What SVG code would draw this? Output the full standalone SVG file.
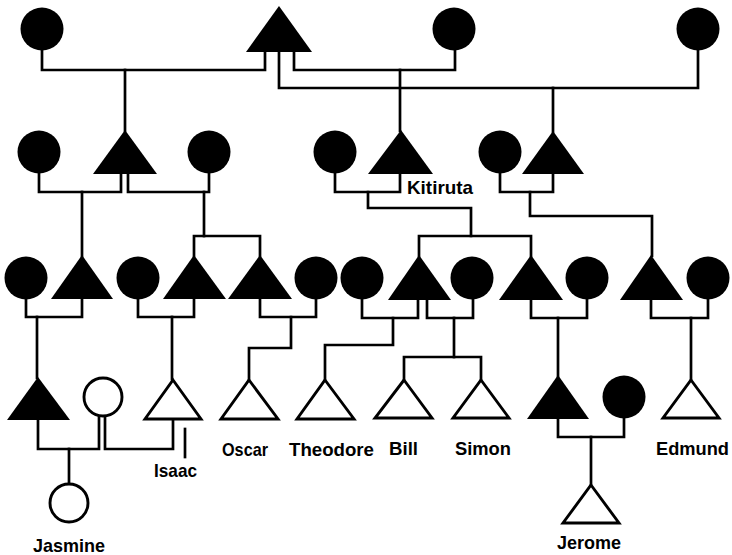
<svg xmlns="http://www.w3.org/2000/svg" width="732" height="555" viewBox="0 0 732 555">
<style>
.f{fill:#000;stroke:none}
.o{fill:#fff;stroke:#000;stroke-width:2.9;stroke-linejoin:miter}
.ln{fill:none;stroke:#000;stroke-width:2.7;stroke-linejoin:miter;stroke-linecap:square}
.lb{font-family:"Liberation Sans",Arial,sans-serif;font-weight:bold;font-size:19px;fill:#000}
</style>
<rect width="732" height="555" fill="#fff"/>
<g id="connectors" class="ln">
<polyline points="42,50 42,70 265,70 265,52"/>
<polyline points="125,70 125,131"/>
<polyline points="294,52 294,70 455,70 455,50"/>
<polyline points="400,70 400,131"/>
<polyline points="279,52 279,88 698,88 698,50"/>
<polyline points="553,88 553,132"/>
<polyline points="39,173 39,192 121,192 121,174"/>
<polyline points="82,192 82,256"/>
<polyline points="128,174 128,192 209,192 209,173"/>
<polyline points="204,192 204,236"/>
<polyline points="194,256 194,236 260,236 260,256"/>
<polyline points="335,173 335,192 400,192 400,174"/>
<polyline points="368,192 368,208 471,208 471,236"/>
<polyline points="419,256 419,236 531,236 531,256"/>
<polyline points="500,173 500,192 553,192 553,174"/>
<polyline points="530,192 530,216 652,216 652,256"/>
<polyline points="26,299 26,317 82,317 82,299"/>
<polyline points="37,317 37,378"/>
<polyline points="138,299 138,317 194,317 194,299"/>
<polyline points="172,317 172,379"/>
<polyline points="260,299 260,317 316,317 316,299"/>
<polyline points="291,317 291,348 249,348 249,379"/>
<polyline points="362,299 362,318 418,318 418,300"/>
<polyline points="393,318 393,345 325,345 325,379"/>
<polyline points="427,300 427,318 473,318 473,299"/>
<polyline points="454,318 454,357"/>
<polyline points="404,379 404,357 481,357 481,379"/>
<polyline points="531,300 531,318 587,318 587,299"/>
<polyline points="558,318 558,376"/>
<polyline points="651,300 651,318 708,318 708,299"/>
<polyline points="691,318 691,379"/>
<polyline points="38,420 38,449 99,449 99,416"/>
<polyline points="69,449 69,483"/>
<polyline points="105,416 105,449 173,449 173,420"/>
<polyline points="185,429 185,457"/>
<polyline points="558,419 558,437 624,437 624,418"/>
<polyline points="591,437 591,484"/>
</g>
<g id="n1a"><circle class="f" cx="42" cy="29" r="21.5"/></g>
<g id="n1b"><polygon class="f" points="279,6 312,52 246,52"/></g>
<g id="n1c"><circle class="f" cx="454" cy="29" r="21.5"/></g>
<g id="n1d"><circle class="f" cx="698" cy="29" r="21.5"/></g>
<g id="n2a"><circle class="f" cx="39" cy="152" r="21.5"/></g>
<g id="n2b"><polygon class="f" points="125,130 157,174 93,174"/></g>
<g id="n2c"><circle class="f" cx="209" cy="152" r="21.5"/></g>
<g id="n2d"><circle class="f" cx="335" cy="152" r="21.5"/></g>
<g id="kitiruta"><polygon class="f" points="401,130 433,174 368,174"/><text class="lb" x="407" y="194" textLength="66" lengthAdjust="spacingAndGlyphs">Kitiruta</text></g>
<g id="n2f"><circle class="f" cx="500" cy="152" r="21.5"/></g>
<g id="n2g"><polygon class="f" points="553,131 584,174 522,174"/></g>
<g id="n3a"><circle class="f" cx="26" cy="278" r="21.5"/></g>
<g id="n3b"><polygon class="f" points="82,255 113,299 51,299"/></g>
<g id="n3c"><circle class="f" cx="138" cy="278" r="21.5"/></g>
<g id="n3d"><polygon class="f" points="194,255 226,299 163,299"/></g>
<g id="n3e"><polygon class="f" points="260,255 292,299 228,299"/></g>
<g id="n3f"><circle class="f" cx="316" cy="278" r="21.5"/></g>
<g id="n3g"><circle class="f" cx="362" cy="278" r="21.5"/></g>
<g id="n3h"><polygon class="f" points="419,255 451,300 388,300"/></g>
<g id="n3i"><circle class="f" cx="472" cy="278" r="21.5"/></g>
<g id="n3j"><polygon class="f" points="531,255 563,300 499,300"/></g>
<g id="n3k"><circle class="f" cx="587" cy="278" r="21.5"/></g>
<g id="n3l"><polygon class="f" points="651,255 683,300 620,300"/></g>
<g id="n3m"><circle class="f" cx="708" cy="278" r="21.5"/></g>
<g id="n4a"><polygon class="f" points="38,377 70,420 7,420"/></g>
<g id="n4b"><circle class="o" cx="103" cy="397" r="19"/></g>
<g id="isaac"><polygon class="o" points="173,380 201,419 145,419"/><text class="lb" x="154" y="477" textLength="43" lengthAdjust="spacingAndGlyphs">Isaac</text></g>
<g id="oscar"><polygon class="o" points="249,380 278,419 221,419"/><text class="lb" x="222" y="456" textLength="46" lengthAdjust="spacingAndGlyphs">Oscar</text></g>
<g id="theodore"><polygon class="o" points="325,380 354,419 297,419"/><text class="lb" x="289" y="456" textLength="85" lengthAdjust="spacingAndGlyphs">Theodore</text></g>
<g id="bill"><polygon class="o" points="404,380 432,418 375,418"/><text class="lb" x="389" y="455" textLength="29" lengthAdjust="spacingAndGlyphs">Bill</text></g>
<g id="simon"><polygon class="o" points="481,380 509,418 453,418"/><text class="lb" x="455" y="455" textLength="56" lengthAdjust="spacingAndGlyphs">Simon</text></g>
<g id="n4g"><polygon class="f" points="558,375 589,419 527,419"/></g>
<g id="n4h"><circle class="f" cx="624" cy="397" r="21.5"/></g>
<g id="edmund"><polygon class="o" points="691,380 719,418 663,418"/><text class="lb" x="656" y="455" textLength="73" lengthAdjust="spacingAndGlyphs">Edmund</text></g>
<g id="jasmine"><circle class="o" cx="69" cy="503" r="19"/><text class="lb" x="33" y="552" textLength="72" lengthAdjust="spacingAndGlyphs">Jasmine</text></g>
<g id="jerome"><polygon class="o" points="591,485 619,523 563,523"/><text class="lb" x="557" y="549" textLength="64" lengthAdjust="spacingAndGlyphs">Jerome</text></g>
</svg>
